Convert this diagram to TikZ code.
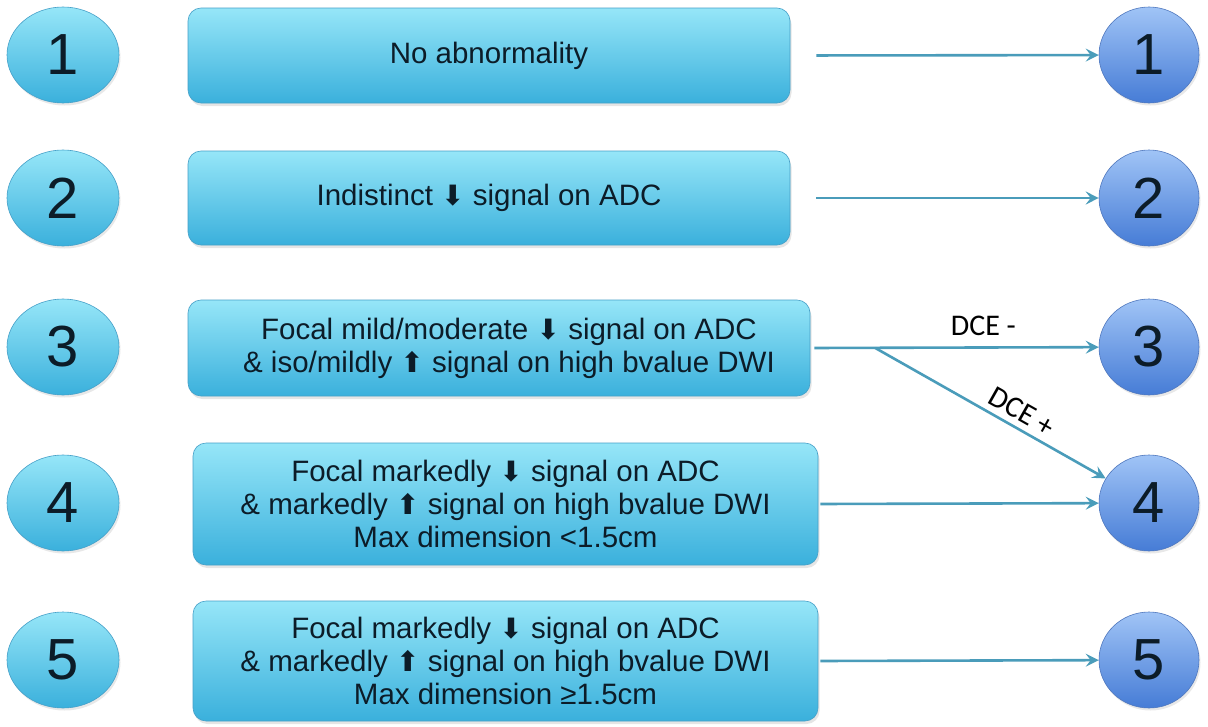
\documentclass[tikz,border=0pt]{standalone}
\usepackage{xcolor}
\usepackage{fontspec}
\setmainfont{Liberation Sans}
\newfontfamily\symfont{DejaVu Sans}
\newfontfamily\dcefont{Carlito}
\usepackage{tikz}
\usetikzlibrary{shapes.geometric, arrows.meta, positioning, calc, shadows}
\definecolor{PIRTop}{RGB}{150, 230, 248}
\definecolor{PIRBottom}{RGB}{58, 176, 220}
\definecolor{PIREdge}{RGB}{70, 160, 200}
\definecolor{PIRBlueTop}{RGB}{160, 196, 246}
\definecolor{PIRBlueBottom}{RGB}{70, 124, 214}
\definecolor{PIRBlueEdge}{RGB}{80, 120, 190}
\definecolor{PIRLine}{RGB}{74, 156, 186}
\definecolor{PIRText}{RGB}{12, 28, 40}
\newcommand{\arrdn}{{\symfont\fontsize{28}{30}\selectfont ⬇}}
\newcommand{\arrup}{{\symfont\fontsize{28}{30}\selectfont ⬆}}

\begin{document}
\begin{tikzpicture}[x=1pt,y=-1pt,
  scorein/.style={ellipse, minimum width=112pt, minimum height=96pt, inner sep=0pt,
    top color=PIRTop, bottom color=PIRBottom, draw=PIREdge, line width=0.6pt,
    drop shadow={opacity=0.18, shadow xshift=1.5pt, shadow yshift=-2.5pt},
    text=PIRText, font=\fontsize{58}{62}\selectfont},
  scoreout/.style={ellipse, minimum width=100pt, minimum height=96pt, inner sep=0pt,
    top color=PIRBlueTop, bottom color=PIRBlueBottom, draw=PIRBlueEdge, line width=0.6pt,
    drop shadow={opacity=0.18, shadow xshift=1.5pt, shadow yshift=-2.5pt},
    text=PIRText, font=\fontsize{58}{62}\selectfont},
  finding/.style={rectangle, rounded corners=13pt, inner sep=0pt, align=center,
    top color=PIRTop, bottom color=PIRBottom, draw=PIREdge, line width=0.6pt,
    drop shadow={opacity=0.2, shadow xshift=1.5pt, shadow yshift=-3pt},
    text=PIRText, font=\fontsize{29.5}{33}\selectfont},
  link/.style={PIRLine, line width=2.6pt, -{Stealth[length=13pt, width=13pt, inset=5pt]}},
  dce/.style={font=\dcefont\fontsize{30}{32}\selectfont, text=black}]
  \path[use as bounding box] (0,0) rectangle (1208,726);
  \fill[white] (0,0) rectangle (1208,726);

  % Score circles, left and right
  \foreach \n/\y in {1/55, 2/198, 3/347, 4/503, 5/660}{
    \node[scorein] (L\n) at (63,\y) {\n};
    \node[scoreout] (R\n) at (1149,\y) {\n};
  }

  % Finding boxes
  \node[finding, minimum width=602pt, minimum height=95pt] (B1) at (489,55.5) {No abnormality};
  \node[finding, minimum width=602pt, minimum height=94pt] (B2) at (489,198)
    {Indistinct \arrdn\ signal on ADC};
  \node[finding, minimum width=622pt, minimum height=96pt] (B3) at (499,348)
    {\hspace*{20pt}Focal mild/moderate \arrdn\ signal on ADC\\ \hspace*{20pt}\& iso/mildly \arrup\ signal on high bvalue DWI};
  \node[finding, minimum width=625pt, minimum height=122pt] (B4) at (505.5,504)
    {Focal markedly \arrdn\ signal on ADC\\ \& markedly \arrup\ signal on high bvalue DWI\\ Max dimension <1.5cm};
  \node[finding, minimum width=625pt, minimum height=120pt] (B5) at (505.5,661)
    {Focal markedly \arrdn\ signal on ADC\\ \& markedly \arrup\ signal on high bvalue DWI\\ Max dimension ≥1.5cm};

  % Connectors
  \draw[link, shorten <=26pt] (B1.east) -- (R1);
  \draw[link, shorten <=26pt] (B2.east) -- (R2);
  \draw[link, shorten <=4pt] (B3.east) -- node[dce, above=7pt, pos=0.6] {DCE -} (R3);
  \coordinate (split) at ($(B3.east)+(65,0)$);
  \draw[link] (split) -- node[dce, above=2pt, sloped, pos=0.6] {DCE +} (R4);
  \draw[link, shorten <=2pt] (B4.east) -- (R4);
  \draw[link, shorten <=2pt] (B5.east) -- (R5);
\end{tikzpicture}
\end{document}
